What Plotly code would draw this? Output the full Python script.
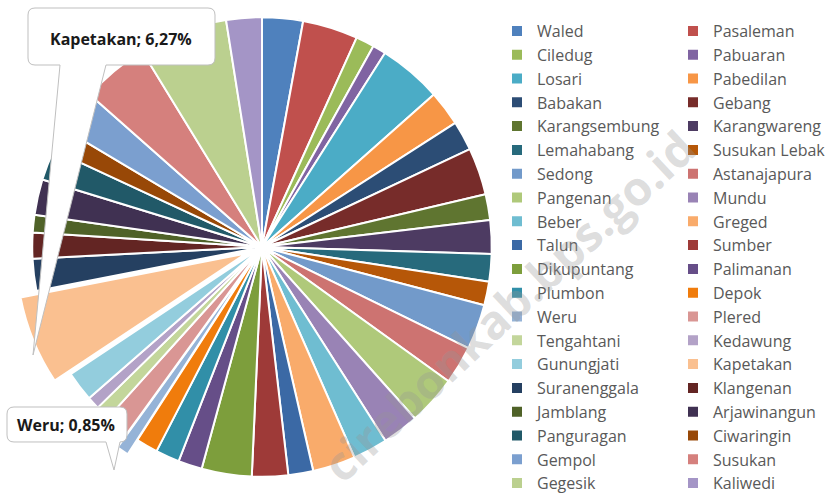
import plotly.graph_objects as go

# data per kecamatan (persen), urutan searah jarum jam mulai jam 12
kecamatan = [
    "Waled", "Pasaleman", "Ciledug", "Pabuaran", "Losari", "Pabedilan",
    "Babakan", "Gebang", "Karangsembung", "Karangwareng", "Lemahabang", "Susukan Lebak",
    "Sedong", "Astanajapura", "Pangenan", "Mundu", "Beber", "Greged",
    "Talun", "Sumber", "Dikupuntang", "Palimanan", "Plumbon", "Depok",
    "Weru", "Plered", "Tengahtani", "Kedawung", "Gunungjati", "Kapetakan",
    "Suranenggala", "Klangenan", "Jamblang", "Arjawinangun", "Panguragan", "Ciwaringin",
    "Gempol", "Susukan", "Gegesik", "Kaliwedi",
]
persentase = [
    2.87, 3.89, 1.30, 0.93, 4.46, 2.47,
    2.07, 3.32, 1.81, 2.36, 1.94, 1.66,
    3.17, 2.68, 3.48, 2.56, 2.44, 3.01,
    1.75, 2.54, 3.52, 1.68, 1.68, 1.53,
    0.85, 1.71, 1.00, 0.89, 2.10, 6.27,
    2.25, 1.81, 1.24, 2.51, 2.17, 1.64,
    2.97, 4.72, 6.25, 2.50,
]
warna = [
    "#4F81BD", "#C0504D", "#9BBB59", "#8064A2", "#4BACC6", "#F79646",
    "#2C4D75", "#772C2A", "#5F7530", "#4D3B62", "#276A7C", "#B65708",
    "#729ACA", "#CD7371", "#AFC97A", "#9983B5", "#6FBDD1", "#F9AB6B",
    "#3B69A5", "#9E3A38", "#7D9E3C", "#664E88", "#318FA8", "#F07C0C",
    "#95B3D7", "#D99694", "#C3D69B", "#B3A2C7", "#93CDDD", "#FAC090",
    "#254061", "#632523", "#4F6228", "#403152", "#215968", "#984807",
    "#7B9FCF", "#D5807D", "#BBD08F", "#A495C6",
]
label_callout = ["Kapetakan", "Weru"]

W, H = 825, 494
plot_w = 512  # lebar area plot, legenda di margin kanan


def to_paper(x, y):
    return x / plot_w, 1 - y / H


def callout_path(x0, y0, x1, y1, base_l, base_r, tip, r=7):
    # kotak bersudut bulat + penunjuk segitiga dari sisi bawah
    pts = [
        ("M", (x0 + r, y0)), ("L", (x1 - r, y0)), ("Q", (x1, y0), (x1, y0 + r)),
        ("L", (x1, y1 - r)), ("Q", (x1, y1), (x1 - r, y1)),
        ("L", (base_r, y1)), ("L", tip), ("L", (base_l, y1)),
        ("L", (x0 + r, y1)), ("Q", (x0, y1), (x0, y1 - r)),
        ("L", (x0, y0 + r)), ("Q", (x0, y0), (x0 + r, y0)),
    ]
    s = ""
    for p in pts:
        s += p[0] + " ".join("%.4f,%.4f" % to_paper(*q) for q in p[1:]) + " "
    return s + "Z"


pull = [0.075 if k in label_callout else 0 for k in kecamatan]

fig = go.Figure(go.Pie(
    labels=kecamatan,
    values=persentase,
    sort=False,
    direction="clockwise",
    rotation=0,
    pull=pull,
    textinfo="none",
    marker=dict(colors=warna, line=dict(color="white", width=2)),
    domain=dict(x=[15 / plot_w, 509 / plot_w], y=[0, 1]),
))

callout_style = dict(type="path", xref="paper", yref="paper", layer="above",
                     fillcolor="white", line=dict(color="#BFBFBF", width=1))
fig.add_shape(path=callout_path(28, 8, 215, 65, 60, 106, (33, 355)), **callout_style)
fig.add_shape(path=callout_path(7, 407, 127, 442, 106, 120, (114, 470)), **callout_style)

label_font = dict(family="Open Sans", size=16, color="#1a1a1a")
x, y = to_paper(121, 39)
fig.add_annotation(x=x, y=y, xref="paper", yref="paper", showarrow=False,
                   xanchor="center", yanchor="middle",
                   text="<b>Kapetakan; 6,27%</b>", font=label_font)
x, y = to_paper(66, 425)
fig.add_annotation(x=x, y=y, xref="paper", yref="paper", showarrow=False,
                   xanchor="center", yanchor="middle",
                   text="<b>Weru; 0,85%</b>", font=label_font)

# watermark
x, y = to_paper(508, 306)
fig.add_annotation(x=x, y=y, xref="paper", yref="paper", showarrow=False,
                   xanchor="center", yanchor="middle",
                   text="<b>cirebonkab.bps.go.id</b>", textangle=-43,
                   font=dict(family="Open Sans", size=47, color="rgba(150,150,150,0.33)"))

fig.update_layout(
    width=W, height=H,
    margin=dict(l=0, r=W - plot_w, t=0, b=0, autoexpand=False),
    paper_bgcolor="white",
    plot_bgcolor="white",
    showlegend=True,
    legend=dict(
        orientation="h",
        x=497 / plot_w, xanchor="left",
        y=1 - 14 / H, yanchor="top",
        entrywidth=131, entrywidthmode="pixels",
        maxheight=1,
        traceorder="normal",
        font=dict(family="Open Sans", size=16, color="#595959"),
        bgcolor="rgba(0,0,0,0)",
    ),
)

# halaman tanpa margin body supaya gambar pas di jendela
fig.write_html("out.html", config={"displayModeBar": False},
               post_script="document.body.style.margin='0px';")
